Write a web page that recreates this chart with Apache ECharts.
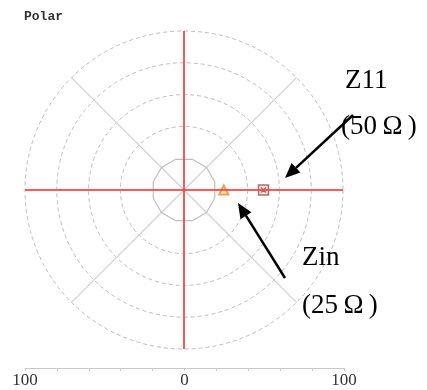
<!DOCTYPE html>
<html>
<head>
<meta charset="utf-8">
<script src="https://cdn.jsdelivr.net/npm/echarts@6/dist/echarts.min.js"></script>
<style>
html,body{margin:0;padding:0;background:#fff;}
#polar{width:427px;height:390px;}
</style>
</head>
<body>
<div id="polar"></div>
<script>
// 读图数据
var ringValues = [0, 20, 40, 60, 80, 100];
var axisLineH = [[100, 0], [0, 0], [100, 180]];
var axisLineV = [[100, 90], [0, 90], [100, 270]];
var innerRingAngles = [15, 45, 75, 105, 135, 165, 195, 225, 255, 285, 315, 345, 375];
var innerRingRadius = 20;
var zinData = [[25, 0]];
var z11Data = [[50, 0]];
var bottomTickLabels = [-100, 0, 100];

var gray = '#bdbdbd';

function arrow(x1, y1, x2, y2){
    var a = Math.atan2(y2 - y1, x2 - x1);
    var len = 15, w = 6.5;
    var bx = x2 - len * Math.cos(a), by = y2 - len * Math.sin(a);
    var px = -Math.sin(a) * w, py = Math.cos(a) * w;
    return [
        {type: 'line', shape: {x1: x1, y1: y1, x2: bx, y2: by}, style: {stroke: '#000', lineWidth: 2.5}, z: 10},
        {type: 'polygon', shape: {points: [[x2, y2], [bx + px, by + py], [bx - px, by - py]]}, style: {fill: '#000'}, z: 10}
    ];
}

var labelFont = '27px "Liberation Serif", "DejaVu Serif", serif';

var chart = echarts.init(document.getElementById('polar'));
var option = {
    backgroundColor: '#fff',
    animation: false,
    title: {
        text: 'Polar',
        left: 24,
        top: 10,
        padding: 0,
        textStyle: {fontFamily: '"Liberation Mono", monospace', fontSize: 13, fontWeight: 'bold', color: '#333'}
    },
    polar: {center: [184, 190], radius: 159},
    angleAxis: {
        type: 'value', min: 0, max: 360, interval: 45, startAngle: 0,
        axisLine: {show: true, lineStyle: {color: gray, type: [4, 3], width: 1}},
        axisTick: {show: false},
        axisLabel: {show: false},
        splitLine: {show: true, lineStyle: {color: '#cfcfcf', width: 1.2}}
    },
    radiusAxis: {
        type: 'value', min: 0, max: 100, interval: 20,
        axisLine: {show: false},
        axisTick: {show: false},
        axisLabel: {show: false},
        splitLine: {
            show: true,
            lineStyle: {
                type: [4, 3], width: 1,
                color: ringValues.map(function(v){ return (v === 0 || v === innerRingRadius || v === 100) ? 'rgba(0,0,0,0)' : gray; })
            }
        }
    },
    grid: {left: 25, right: 83, top: 367, height: 1},
    xAxis: {
        type: 'value', min: -100, max: 100, interval: 20,
        axisLine: {show: true, lineStyle: {color: '#c8c8c8', width: 1}},
        axisTick: {show: true, length: 3, lineStyle: {color: '#c8c8c8'}},
        splitLine: {show: false},
        axisLabel: {
            margin: 4,
            fontFamily: '"Liberation Serif", serif', fontSize: 17, color: '#333',
            formatter: function(v){ return bottomTickLabels.indexOf(v) >= 0 ? String(Math.abs(v)) : ''; }
        }
    },
    yAxis: {type: 'value', show: false, min: 0, max: 1},
    series: [
        {
            type: 'line', coordinateSystem: 'polar', symbol: 'none',
            data: innerRingAngles.map(function(a){ return [innerRingRadius, a]; }),
            lineStyle: {color: '#bdbdbd', width: 1.2}
        },
        {
            type: 'line', coordinateSystem: 'polar', symbol: 'none', data: axisLineH,
            lineStyle: {color: '#ff4040', width: 2, opacity: 0.85}
        },
        {
            type: 'line', coordinateSystem: 'polar', symbol: 'none', data: axisLineV,
            lineStyle: {color: '#ff4040', width: 2, opacity: 0.85}
        },
        {
            name: 'Zin', type: 'scatter', coordinateSystem: 'polar', data: zinData,
            symbol: 'triangle', symbolSize: 9,
            itemStyle: {color: '#fff', borderColor: '#ff7f0e', borderWidth: 2}
        },
        {
            name: 'Z11', type: 'scatter', coordinateSystem: 'polar', data: z11Data,
            symbol: 'path://M0,0H10V10H0Z M2.5,2.5L7.5,7.5M7.5,2.5L2.5,7.5', symbolSize: 10,
            itemStyle: {color: '#eadbd3', borderColor: '#8c564b', borderWidth: 1.5}
        }
    ],
    graphic: [].concat(
        arrow(353, 115, 285, 178),
        arrow(285, 278, 238, 203),
        [
            {type: 'text', left: 345, top: 67, style: {text: 'Z11', font: labelFont, fill: '#000'}, z: 10},
            {type: 'text', left: 341, top: 113, style: {text: '(50\u2009Ω\u2009)', font: labelFont, fill: '#000'}, z: 10},
            {type: 'text', left: 302, top: 244, style: {text: 'Zin', font: labelFont, fill: '#000'}, z: 10},
            {type: 'text', left: 302, top: 292, style: {text: '(25\u2009Ω\u2009)', font: labelFont, fill: '#000'}, z: 10}
        ]
    )
};
chart.setOption(option);
</script>
</body>
</html>
